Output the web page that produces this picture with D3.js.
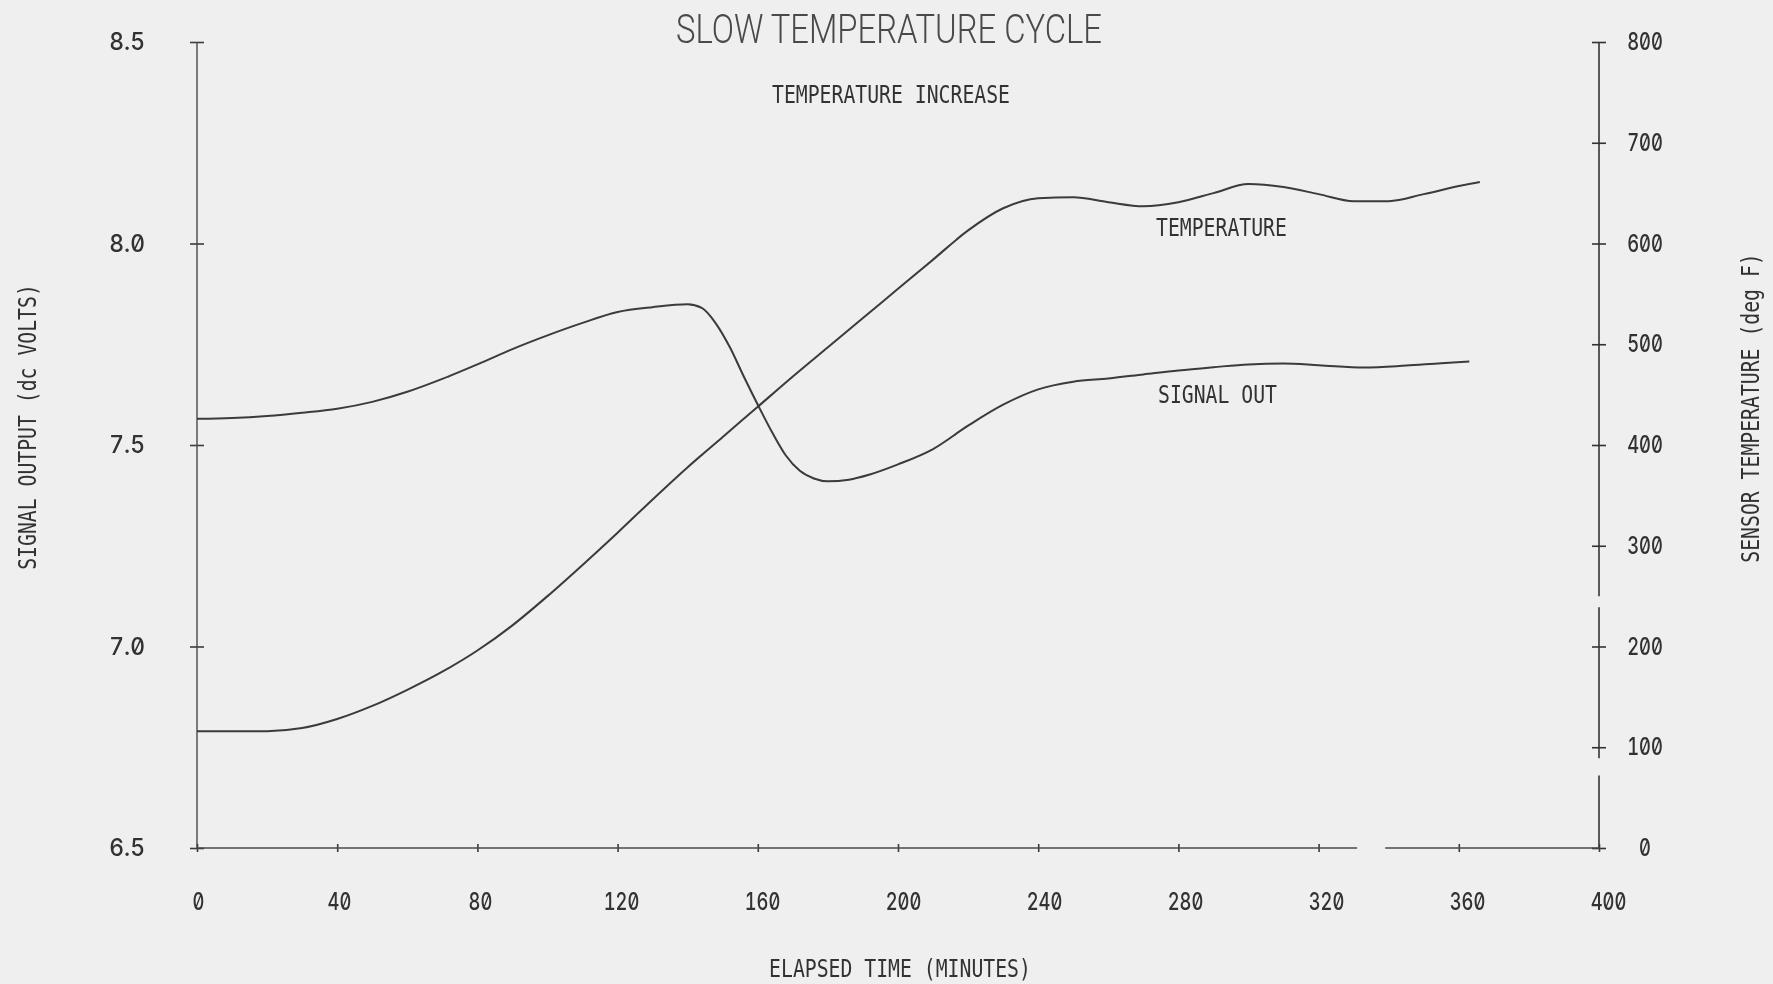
<!DOCTYPE html>
<html>
<head>
<meta charset="utf-8">
<script src="https://cdn.jsdelivr.net/npm/d3@7"></script>
<style>
  html, body { margin: 0; padding: 0; background: #efefef; }
  svg { display: block; }
  .num { font-feature-settings: "zero" 1, "tnum" 1; }
</style>
</head>
<body>
<svg id="chart" width="1773" height="984"></svg>
<script>
// Sensor temperature (deg F) against elapsed time (minutes)
const tempTime = [0,10,20,30,40,50,60,70,80,90,100,110,120,130,140,150,160,170,180,190,200,210,220,230,240,250,260,270,280,290,300,310,320,330,340,350,360,366];
const tempValues = [116,116,116,119,128,141,157,175,196,221,250,281,313,346,378,408,438,468,497,526,555,584,613,635,645,646,641,637,641,650,659,656,649,642,642,649,657,661];

// Signal output (dc volts) against elapsed time (minutes)
const signalTime = [0,10,20,30,40,50,60,70,80,90,100,110,120,130,140,144,148,152,156,160,164,168,172,176,180,186,192,200,210,220,230,240,250,260,270,280,290,300,310,320,333,345,355,363];
const signalValues = [7.565,7.567,7.572,7.580,7.590,7.607,7.632,7.664,7.700,7.738,7.772,7.803,7.830,7.842,7.849,7.840,7.802,7.743,7.670,7.600,7.533,7.474,7.436,7.417,7.410,7.414,7.427,7.452,7.490,7.548,7.600,7.638,7.657,7.665,7.675,7.685,7.693,7.700,7.702,7.698,7.692,7.697,7.703,7.707];

// Axis ticks
const timeTicks = [0,40,80,120,160,200,240,280,320,360,400];
const voltTicks = [6.5,7.0,7.5,8.0,8.5];
const tempTicks = [0,100,200,300,400,500,600,700,800];

// Pen skips along the plotted axis lines (in axis units)
const rightAxisBreaks = [[72, 89], [239, 250]];
const bottomAxisBreaks = [[331, 339]];

const W = 1773, H = 984;
const plot = { left: 197, right: 1599, top: 42, bottom: 848 };
const monoFont = "'DejaVu Sans Mono', 'Liberation Mono', monospace";
const numFont = "Inter, 'DejaVu Sans Mono', monospace";
const charW = 11.9;

const svg = d3.select('#chart');

const defs = svg.append('defs');
defs.append('filter').attr('id', 'soft')
  .append('feGaussianBlur').attr('stdDeviation', 0.55);

svg.append('rect').attr('width', W).attr('height', H).attr('fill', '#efefef');

const g = svg.append('g').attr('filter', 'url(#soft)');

const x = d3.scaleLinear().domain([0, 400]).range([plot.left, plot.right]);
const yV = d3.scaleLinear().domain([6.5, 8.5]).range([plot.bottom, plot.top]);
const yT = d3.scaleLinear().domain([0, 800]).range([plot.bottom, plot.top]);

// Split a domain into drawn segments, leaving out the pen skips
function segments(domain, breaks) {
  const out = [];
  let start = domain[0];
  breaks.forEach(b => { out.push([start, b[0]]); start = b[1]; });
  out.push([start, domain[1]]);
  return out;
}

function fitText(sel) {
  sel.attr('textLength', function () { return this.textContent.length * charW; })
     .attr('lengthAdjust', 'spacingAndGlyphs');
}

function styleNumbers(sel) {
  sel.attr('class', 'num')
     .attr('font-family', numFont).attr('font-size', 24).attr('font-weight', 500)
     .attr('fill', '#303030')
     .call(fitText);
}

// ---- Left axis: signal output ----
const leftAxis = g.append('g')
  .attr('transform', `translate(${plot.left},0)`)
  .call(d3.axisLeft(yV).tickValues(voltTicks).tickSize(0).tickPadding(52).tickFormat(d3.format('.1f')));
leftAxis.select('.domain').remove();
leftAxis.append('line')
  .attr('y1', yV(6.5)).attr('y2', yV(8.5))
  .attr('stroke', '#4a4a4a').attr('stroke-width', 1.4);
leftAxis.selectAll('.tick').append('line')
  .attr('x1', -7).attr('x2', 7).attr('stroke', '#3a3a3a').attr('stroke-width', 1.6);
leftAxis.selectAll('.tick text').call(styleNumbers);

// ---- Right axis: sensor temperature ----
const rightAxis = g.append('g')
  .attr('transform', `translate(${plot.right},0)`)
  .call(d3.axisRight(yT).tickValues(tempTicks).tickSize(0).tickPadding(46));
rightAxis.select('.domain').remove();
rightAxis.selectAll('.segment')
  .data(segments(yT.domain(), rightAxisBreaks))
  .enter().append('line').attr('class', 'segment')
  .attr('y1', d => yT(d[0])).attr('y2', d => yT(d[1]))
  .attr('stroke', '#333').attr('stroke-width', 1.6);
rightAxis.selectAll('.tick').append('line')
  .attr('x1', -7).attr('x2', 7).attr('stroke', '#333').attr('stroke-width', 1.6);
rightAxis.selectAll('.tick text').call(styleNumbers).attr('text-anchor', 'middle');

// ---- Bottom axis: elapsed time ----
const bottomAxis = g.append('g')
  .attr('transform', `translate(0,${plot.bottom})`)
  .call(d3.axisBottom(x).tickValues(timeTicks).tickSize(0).tickPadding(45));
bottomAxis.select('.domain').remove();
bottomAxis.selectAll('.segment')
  .data(segments(x.domain(), bottomAxisBreaks))
  .enter().append('line').attr('class', 'segment')
  .attr('x1', d => x(d[0])).attr('x2', d => x(d[1]))
  .attr('stroke', '#4a4a4a').attr('stroke-width', 1.4);
bottomAxis.selectAll('.tick').append('line')
  .attr('y1', -4).attr('y2', 4).attr('stroke', '#3a3a3a').attr('stroke-width', 1.6);
bottomAxis.selectAll('.tick text').call(styleNumbers)
  .attr('dx', d => 1 + d * 0.02);

// ---- Curves ----
const signalLine = d3.line()
  .x((d, i) => x(signalTime[i]))
  .y(d => yV(d))
  .curve(d3.curveMonotoneX);
const tempLine = d3.line()
  .x((d, i) => x(tempTime[i]))
  .y(d => yT(d))
  .curve(d3.curveMonotoneX);

g.append('path').datum(tempValues)
  .attr('d', tempLine)
  .attr('fill', 'none').attr('stroke', '#3a3a3a').attr('stroke-width', 2);
g.append('path').datum(signalValues)
  .attr('d', signalLine)
  .attr('fill', 'none').attr('stroke', '#3a3a3a').attr('stroke-width', 2);

// ---- Titles and labels ----
g.append('text')
  .attr('x', 889).attr('y', 43)
  .attr('text-anchor', 'middle')
  .attr('font-family', "Roboto, 'DejaVu Sans', sans-serif")
  .attr('font-weight', 300).attr('font-size', 41).attr('fill', '#4a4a4a')
  .attr('textLength', 426).attr('lengthAdjust', 'spacingAndGlyphs')
  .text('SLOW TEMPERATURE CYCLE');

const smallLabels = [
  { text: 'TEMPERATURE INCREASE', x: 891, y: 103, anchor: 'middle' },
  { text: 'TEMPERATURE', x: 1156, y: 236, anchor: 'start' },
  { text: 'SIGNAL OUT', x: 1158, y: 403, anchor: 'start' },
  { text: 'ELAPSED TIME (MINUTES)', x: 900, y: 977, anchor: 'middle' }
];
g.selectAll('.label').data(smallLabels).enter().append('text')
  .attr('class', 'label')
  .attr('x', d => d.x).attr('y', d => d.y)
  .attr('text-anchor', d => d.anchor)
  .attr('font-family', monoFont).attr('font-size', 24).attr('fill', '#333')
  .text(d => d.text)
  .call(fitText);

g.append('text')
  .attr('transform', 'translate(36,427) rotate(-90)')
  .attr('text-anchor', 'middle')
  .attr('font-family', monoFont).attr('font-size', 24).attr('fill', '#333')
  .text('SIGNAL OUTPUT (dc VOLTS)')
  .call(fitText);

g.append('text')
  .attr('transform', 'translate(1759,408) rotate(-90)')
  .attr('text-anchor', 'middle')
  .attr('font-family', monoFont).attr('font-size', 24).attr('fill', '#333')
  .text('SENSOR TEMPERATURE (deg F)')
  .call(fitText);
</script>
</body>
</html>
